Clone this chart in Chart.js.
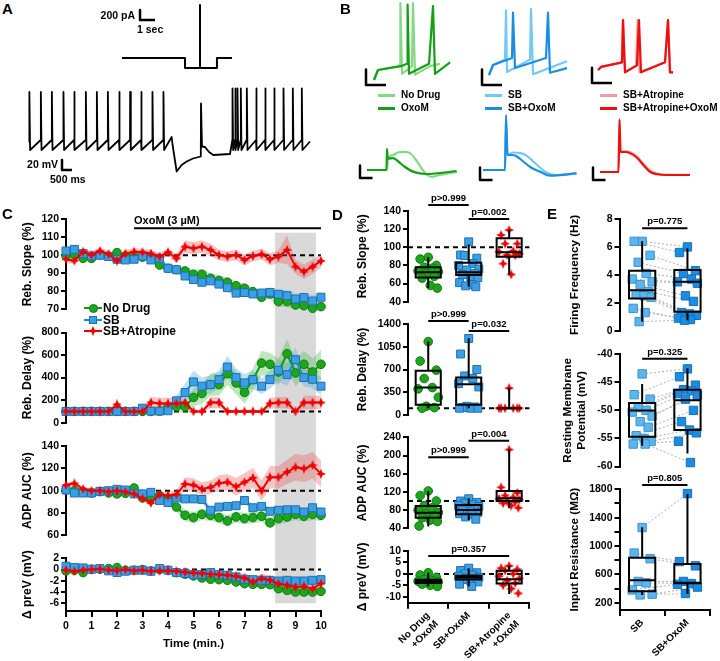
<!DOCTYPE html>
<html>
<head>
<meta charset="utf-8">
<script src="https://cdn.jsdelivr.net/npm/chart.js@4.4.1/dist/chart.umd.min.js"></script>
<style>
  body { margin: 0; background: #fff; width: 720px; height: 661px; position: relative; overflow: hidden;
         font-family: "Liberation Sans", Arial, sans-serif; font-weight: bold; color: #000; }
  canvas { position: absolute; }
  .t { position: absolute; white-space: nowrap; line-height: 1; }
</style>
</head>
<body>
<script>
// ---------- data ----------
// A: stimulus current (s, pA) and voltage trace (ms, mV)
const aCurrentT = [0, 4.2, 4.2, 5.2, 5.2, 5.2, 6.33, 6.33, 7.33];
const aCurrentPA = [0, 0, -200, -200, 1060, -200, -200, 0, 0];
const aSpikesPre = [15, 585, 1135, 1715, 2250, 2835, 3385, 3935, 4500, 5050, 5600, 6165, 6715];
const aRebound = [[7133, -44], [7180, -60], [7383, -113], [7633, -100], [7883, -93], [8200, -87], [8590, -83],
                  [8600, 23], [8650, -63], [8800, -64], [9000, -74], [9217, -80], [10050, -78]];
const aSpikesPost = [10167, 10300, 10417, 10583, 10883, 11350, 11800, 12250, 12717, 13183, 13633];

// B: example traces (ms, mV)
const bTopNoDrug = [[0,-70],[20,-57],[125,-52],[130,-50],[132,30],[140,-62],[190,-52],[195,30],[205,-63],[280,-52],[330,-49]];
const bTopOxoM = [[0,-70],[20,-57],[135,-52],[165,-49],[168,28],[175,-62],[275,-49],[295,26],[305,-62],[380,-47]];
const bTopSB = [[0,-70],[20,-57],[80,-50],[85,14],[90,-66],[205,-50],[210,16],[220,-69],[390,-52]];
const bTopSBOxoM = [[0,-70],[20,-57],[115,-48],[120,11],[130,-61],[285,-48],[295,11],[305,-67],[390,-61]];
const bTopAtr = [[0,-70],[15,-66],[120,-60],[125,-5],[135,-73],[190,-64],[198,-5],[208,-73],[335,-60],[350,-5],[360,-73],[375,-73]];
const bTopAtrOxoM = [[0,-70],[15,-66],[120,-60],[125,-5],[135,-73],[195,-64],[205,-5],[215,-73],[335,-60],[350,-5],[360,-73],[375,-73]];
const bAdpNoDrug = [[0,-70],[40,-70],[42,-61],[52,-58],[62,-56],[72,-55.5],[86,-56.5],[98,-62],[108,-68],[120,-74],[130,-75.5],[145,-74],[180,-71.5]];
const bAdpOxoM = [[0,-70],[39,-70],[40,-53],[41.5,-61],[52,-60.5],[62,-63],[74,-67],[92,-71.3],[119,-73.2],[179,-70.8]];
const bAdpSB = [[0,-70],[44,-70],[46,-35],[49,-58],[60,-56],[75,-56.5],[87,-58.5],[100,-63],[114,-68],[127,-72],[145,-74],[187,-72.7]];
const bAdpSBOxoM = [[0,-70],[44,-70],[46,-26],[49,-58],[58,-58],[67,-59],[80,-63],[96,-68],[114,-71.3],[134,-74.5],[187,-72.7]];
const bAdpAtr = [[0,-70],[37,-70],[39,-30],[41,-54],[52,-53.5],[63,-54.5],[75,-58],[88,-64],[100,-69],[115,-71.5],[133,-72.2],[180,-72.2]];
const bAdpAtrOxoM = [[0,-70],[37,-70],[39,-28],[41,-54],[52,-54],[63,-55.5],[75,-59],[88,-65],[100,-69.8],[115,-71.8],[133,-72.4],[180,-72.4]];

// C: time course (min), mean and SEM
const timeMin = [0,0.33,0.67,1,1.33,1.67,2,2.33,2.67,3,3.33,3.67,4,4.33,4.67,5,5.33,5.67,6,6.33,6.67,7,7.33,7.67,8,8.33,8.67,9,9.33,9.67,10];
const oxoWindow = [2.67, 10];
const shadeWindow = [8.2, 9.8];

const slopeNoDrug = [99.8,100.2,98.3,98.3,100.2,99.6,101.5,99.6,99.3,99,98.3,94.6,92.8,92,91.3,89.4,89.4,87.2,86,85,83.1,81.7,79.8,76.7,78.5,74.3,74.3,72.4,72,70.6,71.5];
const slopeSB = [102.4,103.3,101,99.6,100,99.3,97.8,97.4,97.8,99.6,97.4,98.3,92.8,92,88.5,86.5,85,85.8,84,82,79,79.3,78.5,79,79.4,78.3,77.6,75.7,76.5,74.6,76.7];
const slopeAtr = [97.8,97,102,100.2,102.4,100.6,96.9,101,102,101.7,101,99.3,101.7,98.3,104.8,103.9,104.8,103,100.2,99.3,100.2,97.4,99.6,100.6,97.8,99.3,103,93.7,90.9,93.7,96.9];
const semSlopeNoDrug = [1,1,1,1,1,1,1,1,1,1.2,1.2,1.5,1.8,2,2.5,2.8,3,3,3,2.8,2.5,2.5,2.5,2.5,2.5,3,3,2.5,2.5,2.5,2.5];
const semSlopeSB = [1.5,1.5,1.5,1.5,1.5,1.5,1.5,1.5,1.5,1.5,1.5,1.5,1.8,2,2,2,2.2,2.2,2.2,2.2,2.5,2.5,2.5,2.5,2.5,3,3,3,3,3,3];
const semSlopeAtr = [2,2,2,2,2,2,2,2,2,2,2,2,2,2.5,3.5,3.5,3.5,3.5,3,3,3,3,3,3,3.5,3.5,8,4,4,4,4];

const delayNoDrug = [100,100,100,100,100,100,100,100,100,100,100,103,141,141,141,224,259,338,338,435,353,268,382,529,518,450,612,441,518,450,518];
const delaySB = [100,100,100,100,100,100,100,100,100,129,103,103,106,194,268,362,324,338,382,494,400,353,382,324,382,465,426,559,400,385,324];
const delayAtr = [100,100,100,100,100,100,162,100,100,100,179,171,171,171,179,100,100,179,179,100,100,100,100,100,171,179,179,100,179,179,179];
const semDelayNoDrug = [0,0,0,0,0,0,0,0,0,0,5,10,20,40,60,80,90,100,100,100,100,100,100,110,100,120,130,120,120,120,130];
const semDelaySB = [0,0,0,0,0,0,0,0,0,10,5,5,20,50,80,100,80,80,80,100,80,80,80,70,80,100,100,110,80,80,80];
const semDelayAtr = [0,0,0,0,0,0,30,0,0,0,50,50,50,50,50,0,0,50,50,0,0,0,0,0,50,50,50,0,60,60,60];

const adpNoDrug = [100.6,100,99.1,97.9,99.1,97.9,97.1,97.6,102.4,93.5,94.1,95.6,92.6,85.3,77.9,75.9,78.8,77.9,75.9,72.9,76.5,75,75.9,77.1,71.2,75,76.5,78.8,77.1,78.8,77.9];
const adpSB = [100.6,97.9,97.9,97.9,99.4,100,101.2,100.6,97.1,97.1,98.5,91.2,89.4,93.5,92.6,92.6,92.1,82.4,85.3,85.9,86.5,91.2,84.7,85.9,81.5,82.4,82.9,82.9,80.9,84.7,80.9];
const adpAtr = [105,106.5,101.5,100,100,99,100,99,97,93,89,96.5,95.6,96.5,106,105,101.5,103,106.7,107.6,103.6,107.6,111.5,100,112,112,116.7,121,119.7,122.7,115];
const semAdpNoDrug = [1.5,1.5,1.5,1.5,1.5,1.5,1.5,1.5,2,2,2.5,3,3.5,4,5,5,5,5,5,5,5,5,5,5,5,5,5,5,5,5,5];
const semAdpSB = [1.5,1.5,1.5,1.5,1.5,1.5,1.5,1.5,1.5,1.5,2,2.5,3,3,3,3,3,3,3,3,3,3,3,3,3,3,3,3,3,3,3];
const semAdpAtr = [2,2,2,2,2,2,2,2,2,2.5,3,3,3,4,6,6,6,6,7,7,8,8,9,9,10,10,11,12,12,12,12];

const preVNoDrug = [-0.24,-0.12,-0.54,0.06,0.06,0.18,0.36,-0.12,-0.12,0,-0.24,0,-0.12,-0.54,-0.84,-1.13,-1.49,-1.73,-1.79,-1.91,-2.21,-2.51,-2.63,-2.63,-2.69,-3.4,-3.7,-4,-4,-4,-3.88];
const preVSB = [0.6,0.36,0.3,0.06,0.18,-0.24,-0.54,-0.3,-0.12,-0.12,-0.3,0.18,-0.12,-0.54,-0.72,-0.9,-0.9,-0.54,-0.9,-1.01,-1.31,-1.73,-1.79,-1.91,-1.91,-2.03,-1.91,-2.03,-2.03,-1.91,-1.79];
const preVAtr = [-0.1,-0.3,-0.1,0,0.1,-0.1,-0.2,0,-0.2,-0.1,-0.3,-0.2,-0.2,-0.3,-0.5,-0.6,-0.7,-0.8,-0.9,-1,-1.2,-1.5,-2.2,-1.6,-1.9,-2.5,-2.8,-3.1,-3,-3.4,-2.5];
const semPreVNoDrug = [0.2,0.2,0.2,0.2,0.2,0.2,0.2,0.2,0.2,0.2,0.25,0.25,0.3,0.3,0.35,0.4,0.4,0.45,0.45,0.5,0.5,0.55,0.55,0.6,0.6,0.65,0.65,0.7,0.7,0.7,0.7];
const semPreVSB = [0.3,0.3,0.3,0.3,0.3,0.3,0.3,0.3,0.3,0.3,0.3,0.3,0.3,0.3,0.35,0.35,0.35,0.4,0.4,0.4,0.45,0.45,0.45,0.5,0.5,0.5,0.5,0.5,0.5,0.5,0.5];
const semPreVAtr = [0.3,0.3,0.3,0.3,0.3,0.3,0.3,0.3,0.3,0.3,0.35,0.35,0.4,0.45,0.5,0.55,0.6,0.6,0.65,0.7,0.7,0.75,0.8,0.8,0.8,0.9,0.9,0.9,0.9,0.9,0.9];

// D: per-cell values after OxoM, box = [min, q1, median, q3, max]
const dGroups = [['No Drug', '+OxoM'], 'SB+OxoM', ['SB+Atropine', '+OxoM']];
const dSlopeNoDrug = [89,87,80,78,77,74,73,71,68,66,58,55];
const dSlopeSB = [106,91.5,88,91,82,80,76,75,71,70,67.5,66.5,61,59,57.5,56.5];
const dSlopeAtr = [119,113.5,104,104,96,95,93,91.5,91,82,70];
const dSlopeBox = [[55,66.8,72.4,77.9,89],[56.5,69.4,72.4,83,103],[70,89.6,94.4,110,119]];
const dDelayNoDrug = [1132,830,690,560,420,400,270,130,110,100];
const dDelaySB = [1180,940,700,600,560,480,430,130,120,110,100,100,100];
const dDelayAtr = [412,100,100,100,100,100,100];
const dDelayBox = [[100,154,422,679,1132],[100,154,473,576,1184],[100,100,100,100,412]];
const dAdpNoDrug = [122,112,100,90,85,80,75,72,68,63,58,55,45];
const dAdpSB = [105,100,97,95,92,90,88,85,82,80,78,75,72,70,65,60];
const dAdpAtr = [213,130,118,112,108,105,103,100,98,95,90,85];
const dAdpBox = [[44,63.4,74.4,89,122],[58,70.8,80,91.3,106],[84,100,106,122,213.6]];
const dPreVNoDrug = [0.5,-0.5,-1.5,-2.5,-3,-3.2,-3.5,-3.8,-4,-4.5,-5,-5.5];
const dPreVSB = [2.5,1.5,0.5,0,-0.5,-1,-1.5,-1.8,-2,-2.5,-3,-3.5,-4.5,-5.5];
const dPreVAtr = [3.5,2.5,2,1.5,0,-1,-2,-3,-4,-5,-6.5,-8.5];
const dPreVBox = [[-5.5,-4,-3.4,-2.6,0.5],[-5.5,-2.5,-1.5,-0.8,2.5],[-8.8,-4.2,-2.4,1.4,3.6]];

// E: paired SB vs SB+OxoM
const eGroups = ['SB', 'SB+OxoM'];
const eFreqSB = [6.4,6.4,5.4,4.9,4.1,3.7,3.5,3.3,2.8,2.6,2.5,2.4,1.6,1.3,0.65];
const eFreqOxo = [6.0,5.6,4.3,4.1,3.7,3.5,3.4,2.5,2.1,1.3,1.2,1.1,0.9,0.8,0.75];
const eFreqBox = [[0.65,2.3,2.9,4.3,6.4],[0.75,1.35,3.5,4.35,5.9]];
const eRmpSB = [-43.5,-47.2,-48,-49.5,-50,-50.3,-51,-52,-53,-54.5,-55,-55.5,-56,-56];
const eRmpOxo = [-42.6,-44,-45.5,-46.3,-46.5,-47,-47.3,-48,-50,-52,-53.5,-54,-55.5,-59.3];
const eRmpBox = [[-56.3,-54.7,-50,-48.7,-45.3],[-57.7,-53.5,-48.2,-46.3,-42.5]];
const eRinSB = [1260,900,820,500,480,380,320,310];
const eRinOxo = [1740,780,720,500,470,460,420,330];
const eRinBox = [[310,360,515,835,1263],[322,473,480,746,1734]];

// ---------- setup ----------
const FONT = '"Liberation Sans", Arial, sans-serif';
Chart.defaults.font.family = FONT;
Chart.defaults.font.weight = 'bold';
Chart.defaults.font.size = 10.5;
Chart.defaults.color = '#000';
Chart.defaults.animation = false;
Chart.defaults.responsive = false;
Chart.defaults.events = [];
Chart.defaults.plugins.legend.display = false;
Chart.defaults.plugins.tooltip.enabled = false;

const JIT = [0, -0.8, 0.8, -0.4, 0.4, -1, 1, -0.2, 0.6, -0.6, 0.2, 0.9, -0.9, 0.3, -0.3, 0.7];

function starImg(size, color) {
  const c = document.createElement('canvas');
  c.width = c.height = size;
  const x = c.getContext('2d'), h = size / 2, k = size * 0.15;
  x.beginPath();
  x.moveTo(h, 0); x.lineTo(h + k, h - k); x.lineTo(size, h); x.lineTo(h + k, h + k);
  x.lineTo(h, size); x.lineTo(h - k, h + k); x.lineTo(0, h); x.lineTo(h - k, h - k);
  x.closePath(); x.fillStyle = color; x.fill();
  return c;
}

const GREEN = {line: '#129a12', fill: '#1ea51e', edge: '#0f7a0f', band: 'rgba(70,185,70,0.35)', ps: 'circle', r: 4.3};
const BLUE = {line: '#1d8ad6', fill: '#3a9fe4', edge: '#2170ae', band: 'rgba(95,170,230,0.38)', ps: 'rect', r: 5.6};
const RED = {line: '#e80000', fill: '#f00000', edge: '#f00000', band: 'rgba(235,90,90,0.35)', ps: starImg(10, '#f00000'), r: 5};
const LIGHTBLUE = {fill: '#5cb6ee', edge: '#3e92cd', ps: 'rect', r: 5.9};
const DARKBLUE = {fill: '#1a8de2', edge: '#1570b8', ps: 'rect', r: 5.9};

function makeCanvas(left, top, w, h) {
  const c = document.createElement('canvas');
  c.width = w; c.height = h;
  c.style.left = left + 'px'; c.style.top = top + 'px';
  document.body.appendChild(c);
  return c;
}

function label(text, x, y, o = {}) {
  const d = document.createElement('div');
  d.className = 't';
  d.textContent = text;
  d.style.left = x + 'px';
  d.style.top = y + 'px';
  d.style.fontSize = (o.size || 11) + 'px';
  d.style.transform = 'translate(' + (o.right ? '-100%' : '0') + ',-50%)';
  document.body.appendChild(d);
  return d;
}

// chart whose plot area lands on the given pixel box
function framedChart(area, m, config) {
  const H = m.H || 0, pb = m.pb == null ? 8 : m.pb;
  const left = Math.floor(area.l - m.W), top = Math.floor(area.t - m.pt);
  const w = Math.ceil(area.r + m.pr) - left, h = Math.ceil(area.b + H + pb) - top;
  config.options.layout = {padding: {left: area.l - m.W - left, top: area.t - top,
    right: left + w - area.r, bottom: top + h - area.b - H}};
  return new Chart(makeCanvas(left, top, w, h), config);
}

function yAxis(min, max, o) {
  const ax = {
    min, max,
    afterFit: s => { s.width = o.W; },
    border: {display: true, color: '#000', width: 2},
    grid: {drawOnChartArea: false, drawTicks: true, tickLength: 5, color: '#000', lineWidth: 2},
    ticks: {padding: 2, color: '#000', autoSkip: false, font: {size: 10.5, weight: 'bold'}, callback: v => v},
    title: {display: true, text: o.title, color: '#000', padding: 0, font: {size: o.ts || 12, weight: 'bold', lineHeight: 1.2}}
  };
  if (o.step) ax.ticks.stepSize = o.step;
  if (o.list) ax.afterBuildTicks = s => { s.ticks = o.list.map(v => ({value: v})); };
  if (o.cb) ax.ticks.callback = o.cb;
  return ax;
}

function catAxis(labels, H) {
  return {
    type: 'category', labels, offset: true,
    afterFit: s => { s.height = H; },
    border: {display: true, color: '#000', width: 2},
    grid: {offset: true, drawOnChartArea: false, drawTicks: true, tickLength: 6, color: '#000', lineWidth: 2},
    ticks: {minRotation: 45, maxRotation: 45, autoSkip: false, padding: 1, color: '#000', font: {size: 10, weight: 'bold'}}
  };
}

// ---------- small plugins ----------
const refLine = val => ({id: 'ref', beforeDatasetsDraw(ch) {
  const {ctx, chartArea: a, scales: {y}} = ch, py = y.getPixelForValue(val);
  ctx.save(); ctx.strokeStyle = '#000'; ctx.lineWidth = 2; ctx.setLineDash([5, 4]);
  ctx.beginPath(); ctx.moveTo(a.left, py); ctx.lineTo(a.right, py); ctx.stroke(); ctx.restore();
}});

const boxes = (stats, width) => ({id: 'boxes', afterDatasetsDraw(ch) {
  const {ctx, scales: {xl, y}} = ch;
  const half = (xl.getPixelForValue(1) - xl.getPixelForValue(0)) * width / 2;
  ctx.save(); ctx.strokeStyle = '#000'; ctx.lineWidth = 2;
  stats.forEach(([mn, q1, md, q3, mx], k) => {
    const cx = xl.getPixelForValue(k), p = v => y.getPixelForValue(v);
    ctx.beginPath();
    ctx.moveTo(cx, p(mx)); ctx.lineTo(cx, p(q3));
    ctx.moveTo(cx, p(q1)); ctx.lineTo(cx, p(mn));
    ctx.rect(cx - half, p(q3), 2 * half, p(q1) - p(q3));
    ctx.moveTo(cx - half, p(md)); ctx.lineTo(cx + half, p(md));
    ctx.stroke();
  });
  ctx.restore();
}});

const brackets = items => ({id: 'brackets', afterDraw(ch) {
  const {ctx, scales: {xl, y}} = ch;
  ctx.save(); ctx.strokeStyle = '#000'; ctx.fillStyle = '#000'; ctx.lineWidth = 2;
  ctx.font = 'bold 9.5px ' + FONT; ctx.textAlign = 'center'; ctx.textBaseline = 'bottom';
  items.forEach(([a, b, v, txt]) => {
    const py = y.getPixelForValue(v), x1 = xl.getPixelForValue(a), x2 = xl.getPixelForValue(b);
    ctx.beginPath(); ctx.moveTo(x1, py); ctx.lineTo(x2, py); ctx.stroke();
    ctx.fillText(txt, (x1 + x2) / 2, py - 2);
  });
  ctx.restore();
}});

const pairs = (a, b, spread) => ({id: 'pairs', beforeDatasetsDraw(ch) {
  const {ctx, scales: {xl, y}} = ch;
  ctx.save(); ctx.strokeStyle = '#b0b0b0'; ctx.lineWidth = 1; ctx.setLineDash([2, 2]);
  a.forEach((v, i) => {
    if (b[i] == null) return;
    const j = JIT[i % JIT.length] * spread;
    ctx.beginPath();
    ctx.moveTo(xl.getPixelForValue(j), y.getPixelForValue(v));
    ctx.lineTo(xl.getPixelForValue(1 + j), y.getPixelForValue(b[i]));
    ctx.stroke();
  });
  ctx.restore();
}});

const shade = win => ({id: 'shade', beforeDatasetsDraw(ch) {
  const {ctx, chartArea: a, scales: {x}} = ch;
  const x1 = x.getPixelForValue(win[0]), x2 = x.getPixelForValue(win[1]);
  ctx.save(); ctx.fillStyle = '#d9d9d9'; ctx.fillRect(x1, a.top, x2 - x1, a.height); ctx.restore();
}});

// ---------- traces (A, B) ----------
function traceChart(left, top, w, h, xr, yr, sets) {
  return new Chart(makeCanvas(left, top, w, h), {
    type: 'line',
    data: {datasets: sets.map(s => ({
      data: s.pts.map(([x, y]) => ({x, y})), borderColor: s.color, borderWidth: s.w || 2.2,
      pointRadius: 0, tension: 0, cubicInterpolationMode: s.smooth ? 'monotone' : 'default',
      clip: false, order: s.order || 0, borderJoinStyle: 'round'
    }))},
    options: {layout: {padding: 0},
      scales: {x: {type: 'linear', display: false, min: xr[0], max: xr[1]}, y: {display: false, min: yr[0], max: yr[1]}}}
  });
}
const bar = (x0, y0, dx, dy) => ({pts: [[x0, y0 + dy], [x0, y0], [x0 + dx, y0]], color: '#000', w: 2.5});

function spikeTrace() {
  const pts = [[0, -55]];
  aSpikesPre.forEach(t => pts.push([t, -50], [t + 8, 46], [t + 40, -70]));
  pts.push(...aRebound);
  aSpikesPost.forEach(t => pts.push([t, -50], [t + 8, 53], [t + 40, -70]));
  pts.push([14050, -53]);
  return pts;
}

// A
traceChart(115, 0, 125, 80, [-0.467, 7.867], [-440, 1160], [
  {pts: aCurrentT.map((t, i) => [t, aCurrentPA[i]]), color: '#000', w: 2},
  bar(1.2, 760, 1, 200)
]);
traceChart(20, 85, 300, 100, [-450, 14550], [-140, 60], [
  {pts: spikeTrace(), color: '#000', w: 1.8},
  bar(1650, -110, 500, 20)
]);
label('A', 2, 8, {size: 15});
label('200 pA', 135, 15, {size: 10.5, right: true});
label('1 sec', 137, 29, {size: 10.5});
label('20 mV', 58, 164, {size: 10.5, right: true});
label('500 ms', 50, 179, {size: 10.5});

// B
const LG = '#86d886', DG = '#14a014', LB = '#74c8f5', DB = '#1a8ee2', LR = '#f49a9a', DR = '#ee0f0f';
const topY = [-89.5, 34], adpY = [-82, -18];
traceChart(362, 0, 95, 95, [-60, 415], topY, [
  {pts: bTopOxoM, color: DG}, {pts: bTopNoDrug, color: LG, order: 1}, bar(-40, -76.5, 100, 20)]);
traceChart(477, -5, 95, 95, [-60, 415], topY, [
  {pts: bTopSBOxoM, color: DB}, {pts: bTopSB, color: LB, order: 1}, bar(-35, -83, 100, 20)]);
traceChart(586, -10, 95, 95, [-60, 415], topY, [
  {pts: bTopAtrOxoM, color: DR}, {pts: bTopAtr, color: LR, order: 1}, bar(-30, -87, 100, 20)]);
traceChart(357, 105, 105, 80, [-20, 190], adpY, [
  {pts: bAdpOxoM, color: DG, smooth: true}, {pts: bAdpNoDrug, color: LG, smooth: true, order: 1}, bar(-14, -76.4, 25, 10)]);
traceChart(473, 105, 105, 80, [-20, 190], adpY, [
  {pts: bAdpSBOxoM, color: DB, smooth: true}, {pts: bAdpSB, color: LB, smooth: true, order: 1}, bar(-6, -78, 25, 10)]);
traceChart(590, 107, 105, 80, [-20, 190], adpY, [
  {pts: bAdpAtrOxoM, color: DR, smooth: true}, {pts: bAdpAtr, color: LR, smooth: true, order: 1}, bar(-14, -76.4, 25, 10)]);

label('B', 340, 8, {size: 15});
function legendLine(x, y, color, text) {
  const d = document.createElement('div');
  d.style.cssText = `position:absolute;left:${x}px;top:${y - 1.5}px;width:17px;height:3px;background:${color}`;
  document.body.appendChild(d);
  label(text, x + 23, y, {size: 10});
}
legendLine(378, 95, LG, 'No Drug'); legendLine(378, 108, DG, 'OxoM');
legendLine(485, 95, LB, 'SB'); legendLine(485, 108, DB, 'SB+OxoM');
legendLine(600, 95, LR, 'SB+Atropine'); legendLine(600, 108, DR, 'SB+Atropine+OxoM');

// ---------- C ----------
framedChart({l: 66, t: 232.7, r: 321, b: 603.3}, {W: 0, pt: 0, pr: 0, pb: 0}, {
  type: 'line', data: {datasets: []},
  options: {scales: {x: {type: 'linear', display: false, min: 0, max: 10}, y: {display: false, min: 0, max: 1}}},
  plugins: [shade(shadeWindow)]
});

function timeChart(area, yopt, series, o = {}) {
  const ds = [];
  series.forEach(s => {
    ds.push({data: s.mean.map((m, i) => ({x: timeMin[i], y: m - s.sem[i]})), borderWidth: 0, borderColor: 'transparent',
             pointRadius: 0, fill: false, order: 10});
    ds.push({data: s.mean.map((m, i) => ({x: timeMin[i], y: m + s.sem[i]})), borderWidth: 0, borderColor: 'transparent',
             pointRadius: 0, fill: '-1', backgroundColor: s.st.band, order: 10});
  });
  series.forEach(s => ds.push({
    data: s.mean.map((m, i) => ({x: timeMin[i], y: m})), borderColor: s.st.line, borderWidth: 2,
    pointStyle: s.st.ps, pointRadius: s.st.r, pointBackgroundColor: s.st.fill, pointBorderColor: s.st.edge,
    pointBorderWidth: 1, order: s.order, clip: false
  }));
  if (o.extra) ds.push(o.extra);
  const x = o.xAxis ? {
    type: 'linear', min: 0, max: 10, afterFit: s => { s.height = 40; },
    border: {display: true, color: '#000', width: 2},
    grid: {drawOnChartArea: false, drawTicks: true, tickLength: 6, color: '#000', lineWidth: 2},
    ticks: {stepSize: 1, padding: 3, color: '#000', font: {size: 10.5, weight: 'bold'}},
    title: {display: true, text: 'Time (min.)', padding: 0, color: '#000', font: {size: 11.5, weight: 'bold'}}
  } : {type: 'linear', display: false, min: 0, max: 10};
  return framedChart(area, {W: 46, pt: 10, pr: 10, H: o.xAxis ? 40 : 0, pb: o.xAxis ? 2 : 8}, {
    type: 'line', data: {datasets: ds},
    options: {scales: {x, y: yopt}},
    plugins: [refLine(o.ref)]
  });
}

const cSeries = (g, b, r, eg, eb, er) => [
  {mean: g, sem: eg, st: GREEN, order: 3}, {mean: b, sem: eb, st: BLUE, order: 2}, {mean: r, sem: er, st: RED, order: 1}];

timeChart({l: 66, t: 219.3, r: 321, b: 309.3}, yAxis(70, 120, {W: 46, step: 10, title: 'Reb. Slope (%)'}),
  cSeries(slopeNoDrug, slopeSB, slopeAtr, semSlopeNoDrug, semSlopeSB, semSlopeAtr),
  {ref: 100, extra: {data: oxoWindow.map(t => ({x: t, y: 115})), borderColor: '#000', borderWidth: 2, pointRadius: 0, order: 0, clip: false}});
timeChart({l: 66, t: 332.5, r: 321, b: 422.7}, yAxis(0, 800, {W: 46, step: 200, title: 'Reb. Delay (%)'}),
  cSeries(delayNoDrug, delaySB, delayAtr, semDelayNoDrug, semDelaySB, semDelayAtr), {ref: 100});
timeChart({l: 66, t: 446, r: 321, b: 535.3}, yAxis(60, 140, {W: 46, step: 20, title: 'ADP AUC (%)'}),
  cSeries(adpNoDrug, adpSB, adpAtr, semAdpNoDrug, semAdpSB, semAdpAtr), {ref: 100});
timeChart({l: 66, t: 558.3, r: 321, b: 611}, yAxis(-7.37, 2, {W: 46, list: [2, 0, -2, -4, -6], title: 'Δ preV (mV)'}),
  cSeries(preVNoDrug, preVSB, preVAtr, semPreVNoDrug, semPreVSB, semPreVAtr), {ref: 0, xAxis: true});

label('C', 2, 213, {size: 15});
label('OxoM (3 µM)', 134, 220, {size: 11});
function cLegend(y, st, text) {
  const l = document.createElement('div');
  l.style.cssText = `position:absolute;left:84px;top:${y - 1}px;width:18px;height:2px;background:${st.line}`;
  document.body.appendChild(l);
  let m;
  if (st.ps === 'circle') {
    m = document.createElement('div');
    m.style.cssText = `position:absolute;left:88.5px;top:${y - 4.5}px;width:7px;height:7px;border-radius:50%;background:${st.fill};border:1px solid ${st.edge}`;
  } else if (st.ps === 'rect') {
    m = document.createElement('div');
    m.style.cssText = `position:absolute;left:89px;top:${y - 4}px;width:6px;height:6px;background:${st.fill};border:1px solid ${st.edge}`;
  } else {
    m = document.createElement('img');
    m.src = st.ps.toDataURL();
    m.style.cssText = `position:absolute;left:88px;top:${y - 5}px;width:10px;height:10px`;
  }
  document.body.appendChild(m);
  label(text, 103, y, {size: 12});
}
cLegend(308, GREEN, 'No Drug'); cLegend(319.5, BLUE, 'SB'); cLegend(331, RED, 'SB+Atropine');

// ---------- D, E ----------
function dotChart(area, m, yopt, groups, o) {
  const n = groups.length;
  const datasets = groups.map((g, k) => ({
    data: g.pts.map((v, i) => ({x: k + JIT[i % JIT.length] * o.spread, y: v})),
    xAxisID: 'xl', yAxisID: 'y', pointStyle: g.st.ps, pointRadius: g.st.r,
    pointBackgroundColor: g.st.fill, pointBorderColor: g.st.edge, pointBorderWidth: 1, clip: false
  }));
  const scales = {xl: {type: 'linear', axis: 'x', position: 'bottom', display: false, min: -0.5, max: n - 0.5}, y: yopt};
  if (o.cats) scales.x = catAxis(o.cats, m.H);
  const plugins = [];
  if (o.ref != null) plugins.push(refLine(o.ref));
  if (o.pairs) plugins.push(pairs(o.pairs[0], o.pairs[1], o.spread));
  plugins.push(boxes(o.box, o.bw), brackets(o.brackets || []));
  return framedChart(area, m, {type: 'scatter', data: {datasets}, options: {scales}, plugins});
}

const dArea = (t, b) => ({l: 408, t, r: 530, b});
const dg = (a, b, c) => [{pts: a, st: GREEN}, {pts: b, st: BLUE}, {pts: c, st: RED}];
dotChart(dArea(211, 301.7), {W: 53, pt: 24, pr: 6}, yAxis(40, 140, {W: 53, step: 20, title: 'Reb. Slope (%)'}),
  dg(dSlopeNoDrug, dSlopeSB, dSlopeAtr),
  {spread: 0.25, ref: 100, box: dSlopeBox, bw: 0.62, brackets: [[0, 1, 146.6, 'p>0.999'], [1, 2, 131.2, 'p=0.002']]});
dotChart(dArea(324.3, 415), {W: 53, pt: 20, pr: 6}, yAxis(0, 1400, {W: 53, step: 350, title: 'Reb. Delay (%)'}),
  dg(dDelayNoDrug, dDelaySB, dDelayAtr),
  {spread: 0.25, ref: 100, box: dDelayBox, bw: 0.62, brackets: [[0, 1, 1451, 'p>0.999'], [1, 2, 1297, 'p=0.032']]});
dotChart(dArea(437.3, 528.3), {W: 53, pt: 14, pr: 6}, yAxis(40, 240, {W: 53, step: 40, title: 'ADP AUC (%)'}),
  dg(dAdpNoDrug, dAdpSB, dAdpAtr),
  {spread: 0.25, ref: 100, box: dAdpBox, bw: 0.62, brackets: [[0, 1, 196, 'p>0.999'], [1, 2, 232.5, 'p=0.004']]});
dotChart(dArea(551, 602.7), {W: 53, pt: 14, pr: 6, H: 60, pb: 2}, yAxis(-12.6, 10, {W: 53, list: [10, 5, 0, -5, -10], title: 'Δ preV (mV)'}),
  dg(dPreVNoDrug, dPreVSB, dPreVAtr),
  {spread: 0.25, ref: 0, box: dPreVBox, bw: 0.62, cats: dGroups, brackets: [[0, 2, 7.8, 'p=0.357']]});
label('D', 332, 213.5, {size: 15});

const eArea = (t, b) => ({l: 619.5, r: 711, t, b});
const eg = (a, b) => [{pts: a, st: LIGHTBLUE}, {pts: b, st: DARKBLUE}];
dotChart(eArea(219, 331), {W: 51.5, pt: 12, pr: 6}, yAxis(0, 8, {W: 51.5, step: 2, ts: 11.7, title: 'Firing Frequency (Hz)'}),
  eg(eFreqSB, eFreqOxo),
  {spread: 0.22, box: eFreqBox, bw: 0.58, pairs: [eFreqSB, eFreqOxo], brackets: [[0, 1, 7.34, 'p=0.775']]});
dotChart(eArea(354.3, 466.5), {W: 58.5, pt: 12, pr: 6}, yAxis(-60, -40, {W: 58.5, step: 5, ts: 11.7, title: ['Resting Membrane', 'Potential (mV)']}),
  eg(eRmpSB, eRmpOxo),
  {spread: 0.22, box: eRmpBox, bw: 0.58, pairs: [eRmpSB, eRmpOxo], brackets: [[0, 1, -40.8, 'p=0.325']]});
dotChart(eArea(489.3, 610), {W: 51.5, pt: 14, pr: 6, H: 50, pb: 2},
  yAxis(97, 1800, {W: 51.5, ts: 11.7, list: [200, 400, 600, 800, 1000, 1200, 1400, 1600, 1800], title: 'Input Resistance (MΩ)',
    cb: v => ((v - 200) % 400 === 0 ? v : '')}),
  eg(eRinSB, eRinOxo),
  {spread: 0.22, box: eRinBox, bw: 0.58, pairs: [eRinSB, eRinOxo], cats: eGroups, brackets: [[0, 1, 1860, 'p=0.805']]});
label('E', 547, 212.5, {size: 15});
</script>
</body>
</html>
